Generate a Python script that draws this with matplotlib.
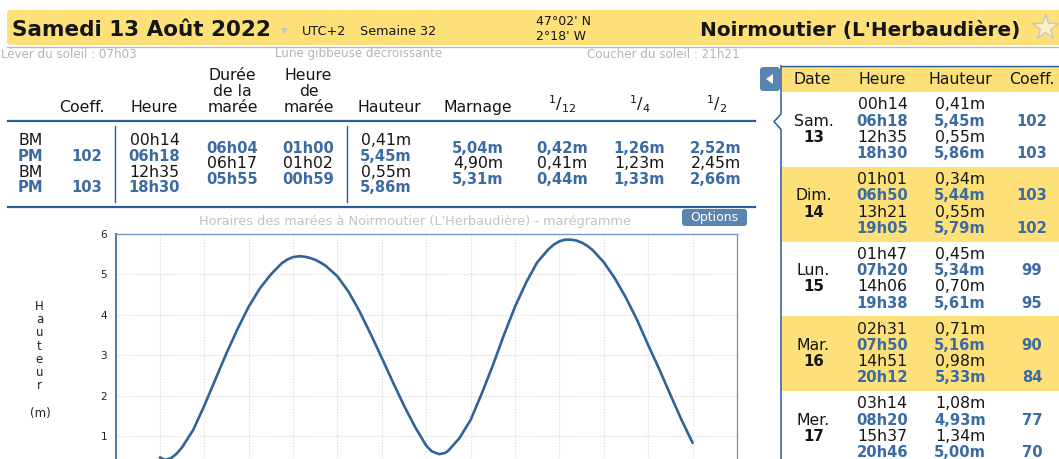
import matplotlib
matplotlib.use("Agg")
import matplotlib.pyplot as plt
from matplotlib.patches import Rectangle, FancyBboxPatch, Polygon

# --- data ---
date_title = "Samedi 13 Août 2022"
place_title = "Noirmoutier (L'Herbaudière)"
coords = ["47°02' N", "2°18' W"]
sun_moon = ["Lever du soleil : 07h03", "Lune gibbeuse décroissante", "Coucher du soleil : 21h21"]

tide_types = ["BM", "PM", "BM", "PM"]
tide_coeffs = ["", "102", "", "103"]
tide_times = ["00h14", "06h18", "12h35", "18h30"]
tide_heights = ["0,41m", "5,45m", "0,55m", "5,86m"]
durations = ["06h04", "06h17", "05h55"]
tide_hours = ["01h00", "01h02", "00h59"]
marnage = ["5,04m", "4,90m", "5,31m"]
twelfth = ["0,42m", "0,41m", "0,44m"]
quarter = ["1,26m", "1,23m", "1,33m"]
half = ["2,52m", "2,45m", "2,66m"]

day_names = ["Sam.", "Dim.", "Lun.", "Mar.", "Mer."]
day_nums = ["13", "14", "15", "16", "17"]
side_times = [["00h14", "06h18", "12h35", "18h30"],
              ["01h01", "06h50", "13h21", "19h05"],
              ["01h47", "07h20", "14h06", "19h38"],
              ["02h31", "07h50", "14h51", "20h12"],
              ["03h14", "08h20", "15h37", "20h46"]]
side_heights = [["0,41m", "5,45m", "0,55m", "5,86m"],
                ["0,34m", "5,44m", "0,55m", "5,79m"],
                ["0,45m", "5,34m", "0,70m", "5,61m"],
                ["0,71m", "5,16m", "0,98m", "5,33m"],
                ["1,08m", "4,93m", "1,34m", "5,00m"]]
side_coeffs = [["", "102", "", "103"],
               ["", "103", "", "102"],
               ["", "99", "", "95"],
               ["", "90", "", "84"],
               ["", "77", "", "70"]]

# tide curve (hours since midnight, metres)
curve_hours = [0, 0.23, 0.5, 0.75, 1, 1.5, 2, 2.5, 3, 3.5, 4, 4.5, 5, 5.5, 5.75,
               6, 6.3, 6.5, 6.75, 7, 7.25, 7.5, 8, 8.5, 9, 9.5, 10, 10.5, 11, 11.5,
               12, 12.25, 12.58, 12.85, 13, 13.5, 14, 14.5, 15, 15.5, 16, 16.5,
               17, 17.5, 17.75, 18, 18.25, 18.5, 18.75, 19, 19.25, 19.5, 20, 20.5,
               21, 21.5, 22, 22.5, 23, 23.5, 24]
curve_heights = [0.47, 0.41, 0.45, 0.56, 0.72, 1.15, 1.75, 2.4, 3.05, 3.65, 4.2, 4.65, 5.0, 5.28, 5.37,
                 5.43, 5.45, 5.44, 5.41, 5.36, 5.29, 5.2, 4.95, 4.57, 4.08, 3.52, 2.93, 2.33, 1.75, 1.22,
                 0.76, 0.62, 0.55, 0.58, 0.64, 0.95, 1.4, 2.05, 2.75, 3.5, 4.2, 4.8,
                 5.3, 5.62, 5.74, 5.82, 5.86, 5.86, 5.84, 5.79, 5.71, 5.6, 5.3, 4.9,
                 4.42, 3.87, 3.25, 2.65, 2.02, 1.4, 0.83]

YELLOW = "#fde178"
BLUE = "#3a6ba3"
LINE = "#2b5d9c"
INK = "#151515"
GREY = "#b4b4b4"

W, H = 1059, 459
fig = plt.figure(figsize=(W / 100, H / 100), dpi=100)
bg = fig.add_axes([0, 0, 1, 1])
bg.set_xlim(0, W)
bg.set_ylim(H, 0)
bg.axis("off")


def txt(x, base, s, size=11.3, color=INK, bold=False, ha="center"):
    bg.text(x, base, s, fontsize=size, color=color, ha=ha, va="baseline",
            fontweight="bold" if bold else "normal")


# header bar
bg.add_patch(FancyBboxPatch((7, 10), W + 20, 35, boxstyle="round,pad=0,rounding_size=4",
                            fc=YELLOW, ec="none"))
bg.plot([7, W], [46.5, 46.5], color="#a9bccf", lw=1)
txt(12, 35.5, date_title, size=15.5, bold=True, ha="left")
txt(284, 34, "▾", size=10, color="#c4c4c4")
txt(302, 35, "UTC+2", size=9.2, ha="left")
txt(360, 35, "Semaine 32", size=9.2, ha="left")
txt(536, 25, coords[0], size=9, ha="left")
txt(536, 40, coords[1], size=9, ha="left")
txt(1020, 36, place_title, size=14.4, bold=True, ha="right")
bg.plot(1045, 27, marker="*", markersize=19, markerfacecolor="#fbf0c4",
        markeredgecolor="#c6c6c6", mew=1)

txt(1, 57.5, sun_moon[0], size=8.6, color=GREY, ha="left")
txt(275, 57.5, sun_moon[1], size=8.6, color=GREY, ha="left")
txt(587, 57.5, sun_moon[2], size=8.6, color=GREY, ha="left")

# main table header
txt(82, 112, "Coeff.")
txt(154, 112, "Heure")
for i, s in enumerate(["Durée", "de la", "marée"]):
    txt(232.5, 80 + 16 * i, s)
for i, s in enumerate(["Heure", "de", "marée"]):
    txt(308.5, 80 + 16 * i, s)
txt(389, 112, "Hauteur")
txt(477.5, 112, "Marnage")
txt(562, 110, r"$^{1}/_{12}$", size=11.5)
txt(640, 110, r"$^{1}/_{4}$", size=11.5)
txt(717, 110, r"$^{1}/_{2}$", size=11.5)

bg.plot([8, 755], [121, 121], color=LINE, lw=1.6)
bg.plot([8, 755], [207, 207], color=LINE, lw=1.6)
for xv in [115, 347]:
    bg.plot([xv, xv], [126, 202], color=LINE, lw=1)

row_base = [145, 160.8, 176.6, 192.4]
for i in range(4):
    pm = tide_types[i] == "PM"
    c = BLUE if pm else INK
    sz = 10.6 if pm else 11.3
    txt(18, row_base[i], tide_types[i], size=sz, color=c, bold=pm, ha="left")
    txt(87, row_base[i], tide_coeffs[i], size=sz, color=c, bold=pm)
    txt(154.5, row_base[i], tide_times[i], size=sz, color=c, bold=pm)
    txt(386, row_base[i], tide_heights[i], size=sz, color=c, bold=pm)

mid_base = [152.7, 168.5, 184.3]
mid_cols = [(232, durations), (308, tide_hours), (478, marnage),
            (562.5, twelfth), (639, quarter), (716, half)]
for i in range(3):
    rising = i != 1
    c = BLUE if rising else INK
    sz = 10.6 if rising else 11.3
    for xc, col in mid_cols:
        txt(xc, mid_base[i], col[i], size=sz, color=c, bold=rising)

# chart title + options button
txt(414.5, 225, "Horaires des marées à Noirmoutier (L'Herbaudière) - marégramme",
    size=9.3, color="#c2c2c2")
bg.add_patch(FancyBboxPatch((682, 209), 65, 17, boxstyle="round,pad=0,rounding_size=3",
                            fc="#5a84b0", ec="none"))
txt(714.5, 221, "Options", size=9, color="white")

# y axis label, stacked letters
for i, ch in enumerate("Hauteur"):
    txt(39.5, 310 + 13.2 * i, ch, size=8.5, color="#222222")
txt(40, 417, "(m)", size=8.5, color="#222222")

# sidebar
SX = 781
bg.add_patch(Rectangle((SX, 66), W - SX + 5, 26, fc=YELLOW, ec="none"))
blk = 74.8
for d in range(5):
    top = 92 + blk * d
    if d % 2 == 1:
        bg.add_patch(Rectangle((SX, top), W - SX + 5, blk, fc=YELLOW, ec="none"))
    bases = [top + 17.2 + 16.3 * j for j in range(4)]
    txt(813.5, bases[1], day_names[d], size=11.3)
    txt(814, bases[2], day_nums[d], size=10.8, bold=True)
    for j in range(4):
        pm = j % 2 == 1
        c = BLUE if pm else INK
        sz = 10.6 if pm else 11.3
        txt(882.5, bases[j], side_times[d][j], size=sz, color=c, bold=pm)
        txt(960, bases[j], side_heights[d][j], size=sz, color=c, bold=pm)
        txt(1032, bases[j], side_coeffs[d][j], size=sz, color=c, bold=pm)

txt(812.5, 83.5, "Date")
txt(882.5, 83.5, "Heure")
txt(960, 83.5, "Hauteur")
txt(1032, 83.5, "Coeff.")

bg.plot([SX, W], [66, 66], color=LINE, lw=1)
bg.add_patch(Polygon([(SX + 0.5, 114), (774, 121.7), (SX + 0.5, 129.5)],
                     closed=True, fc="white", ec="none"))
bg.plot([SX, SX, 774, SX, SX], [66, 114, 121.7, 129.5, H], color=LINE, lw=1.1)

bg.add_patch(FancyBboxPatch((760, 67), 20, 24, boxstyle="round,pad=0,rounding_size=3",
                            fc="#5a84b0", ec="none"))
bg.add_patch(Polygon([(766, 79), (773, 74), (773, 84)], closed=True, fc="white", ec="none"))

# tide chart
y_top, y_zero = 234, 476.4
ax = fig.add_axes([115.5 / W, 1 - y_zero / H, (737 - 115.5) / W, (y_zero - y_top) / H])
ax.set_xlim(-2, 26)
ax.set_ylim(0, 6)
ax.set_xticks(range(0, 25, 2))
ax.set_yticks(range(1, 7))
ax.grid(True, color="#d6d6d6", linestyle=(0, (1, 1.5)), lw=0.8)
ax.tick_params(axis="x", length=0, labelbottom=False)
ax.tick_params(axis="y", length=0, pad=6, labelsize=7.5, labelcolor="#222222")
ax.spines["left"].set_color("#4a78ad")
ax.spines["left"].set_linewidth(1.4)
for s in ["top", "right"]:
    ax.spines[s].set_color("#6f93bf")
    ax.spines[s].set_linewidth(0.9)
ax.spines["bottom"].set_visible(False)
ax.plot(curve_hours, curve_heights, color="#2f6497", lw=1.9,
        solid_capstyle="round", solid_joinstyle="round")

fig.savefig("out.png", dpi=100)
